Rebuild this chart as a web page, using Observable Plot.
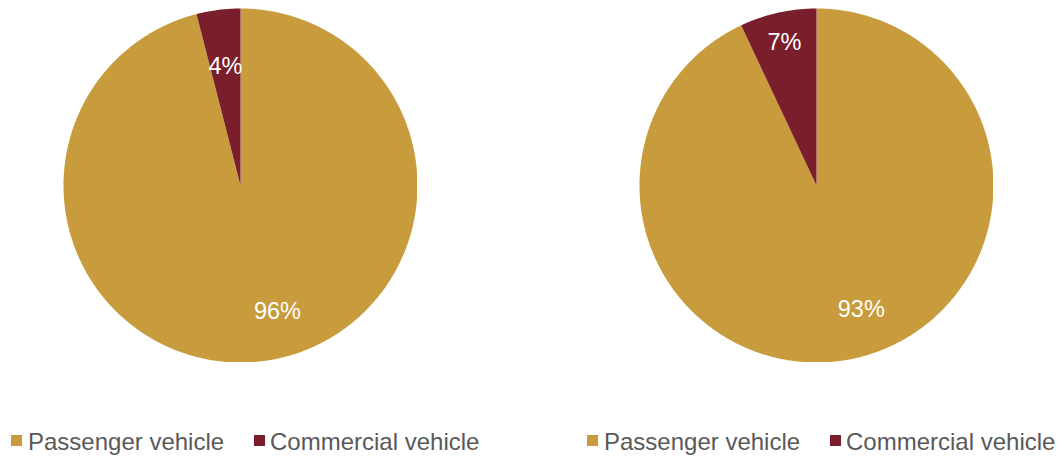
<!DOCTYPE html>
<html>
<head>
<meta charset="utf-8">
<script src="https://cdn.jsdelivr.net/npm/d3@7"></script>
<script src="https://cdn.jsdelivr.net/npm/@observablehq/plot@0.6"></script>
<style>
  body { margin: 0; background: #fff; font-family: "Liberation Sans", Arial, sans-serif; }
  #root { position: relative; width: 1059px; height: 456px; overflow: hidden; }
  .pie { position: absolute; top: 8px; }
  .swatch { position: absolute; top: 435px; width: 11px; height: 11px; }
  .label { position: absolute; top: 430px; font-size: 24px; line-height: 24px; color: #595959; white-space: nowrap; }
</style>
</head>
<body>
<div id="root"></div>
<script>
// Vehicle mix: share of each category, in percent
const categories = ["Passenger vehicle", "Commercial vehicle"];
const colors = ["#C89B3C", "#7B1E2B"];
const leftShares = [96, 4];
const rightShares = [93, 7];

const root = document.getElementById("root");
const diameter = 354;

// Turn a list of shares into pie wedges (planar GeoJSON, y up, clockwise from 12 o'clock)
function wedges(shares) {
  const arcs = d3.pie().sort(null).value(d => d.value)(
    categories.map((c, i) => ({category: c, value: shares[i]}))
  );
  return arcs.map(a => {
    const n = Math.max(2, Math.ceil((a.endAngle - a.startAngle) / (Math.PI / 360)));
    const ring = [[0, 0]];
    for (let k = 0; k <= n; k++) {
      const t = a.startAngle + (a.endAngle - a.startAngle) * k / n;
      ring.push([Math.sin(t), Math.cos(t)]);
    }
    ring.push([0, 0]);
    return {
      type: "Feature",
      properties: {category: a.data.category, value: a.data.value,
                   mid: (a.startAngle + a.endAngle) / 2},
      geometry: {type: "Polygon", coordinates: [ring]}
    };
  });
}

function pie(shares, left, labelRadii, bigDx) {
  const features = wedges(shares);
  const labels = features.map((f, i) => ({
    x: Math.sin(f.properties.mid) * labelRadii[i],
    y: Math.cos(f.properties.mid) * labelRadii[i],
    text: f.properties.value + "%",
    big: f.properties.value > 50
  }));
  const chart = Plot.plot({
    width: diameter,
    height: diameter,
    margin: 0,
    projection: {type: "reflect-y", domain: {type: "MultiPoint", coordinates: [[-1, -1], [1, 1]]}},
    color: {domain: categories, range: colors},
    marks: [
      Plot.geo(features, {fill: d => d.properties.category}),
      Plot.text(labels.filter(d => d.big), {x: "x", y: "y", text: "text", fill: "white",
        fontSize: 23.5, dx: bigDx, fontFamily: "Liberation Sans, Arial, sans-serif"}),
      Plot.text(labels.filter(d => !d.big), {x: "x", y: "y", text: "text", fill: "white",
        fontSize: 23.5, fontFamily: "Liberation Sans, Arial, sans-serif"})
    ]
  });
  chart.classList.add("pie");
  chart.style.left = left + "px";
  root.appendChild(chart);
}

function legend(items) {
  items.forEach(([i, sx, tx]) => {
    const sw = document.createElement("div");
    sw.className = "swatch";
    sw.style.left = sx + "px";
    sw.style.background = colors[i];
    root.appendChild(sw);
    const lb = document.createElement("div");
    lb.className = "label";
    lb.style.left = tx + "px";
    lb.textContent = categories[i];
    root.appendChild(lb);
  });
}

pie(leftShares, 63, [0.72, 0.68], 21);
pie(rightShares, 639, [0.72, 0.83], 17);
legend([[0, 11, 28], [1, 254, 270]]);
legend([[0, 587, 604], [1, 830, 846]]);
</script>
</body>
</html>
